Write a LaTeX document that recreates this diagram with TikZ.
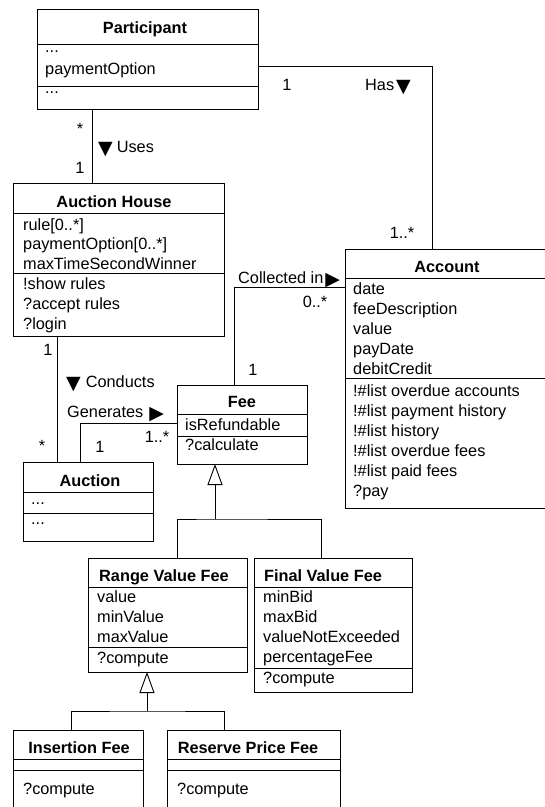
\documentclass[tikz,border=0pt]{standalone}
\usepackage{fontspec}
\setmainfont{Liberation Sans}
\newfontfamily\symfont{DejaVu Sans}
\usetikzlibrary{arrows.meta}
\tikzset{
  umlbox/.style={draw, line width=0.9pt, rectangle, inner sep=0pt, outer sep=0pt, anchor=north west},
  txt/.style={inner sep=0pt, text height=11.7pt, text depth=0pt, anchor=west, font=\fontsize{16.3}{20}\selectfont},
  ttl/.style={txt, anchor=center, font=\fontsize{16.3}{20}\selectfont\bfseries},
  lbl/.style={txt, anchor=center},
  conn/.style={line width=0.9pt},
  sepline/.style={line width=0.9pt},
  gen/.style={conn, -{Triangle[open, length=21pt, width=15pt]}},
}
\newcommand{\umlclass}[5]{%
  \node[umlbox, minimum width={#4-#2}, minimum height={#5-#3}] (#1) at (#2,#3) {};}
\newcommand{\umlsep}[2]{\draw[sepline] (#1.west |- 0,#2) -- (#1.east |- 0,#2);}
\newcommand{\tri}[1]{{\symfont\fontsize{19}{19}\selectfont\raisebox{-1.5pt}{#1}}}
\begin{document}
\begin{tikzpicture}[x=1pt,y=-1pt]
\useasboundingbox (0,0) rectangle (545,807);
\clip (0,0) rectangle (545,807);

% ---------- Participant
\umlclass{participant}{37}{9}{258}{109}
\umlsep{participant}{44}\umlsep{participant}{86}
\node[ttl] (participantT) at (145,28) {Participant};
\node[txt] (p1) at (45,47) {...};
\node[txt] (p2) at (45,69) {paymentOption};
\node[txt] (p3) at (45,88) {...};

% ---------- Auction House
\umlclass{ah}{13}{183}{224}{336}
\umlsep{ah}{213}\umlsep{ah}{273}
\node[ttl] (ahT) at (114,202) {Auction House};
\node[txt] (ah1) at (23,225) {rule[0..*]};
\node[txt] (ah2) at (23,244) {paymentOption[0..*]};
\node[txt] (ah3) at (23,264) {maxTimeSecondWinner};
\node[txt] (ah4) at (23,284) {!show rules};
\node[txt] (ah5) at (23,304) {?accept rules};
\node[txt] (ah6) at (23,324) {?login};

% ---------- Account
\umlclass{account}{345}{249}{549}{508}
\umlsep{account}{278}\umlsep{account}{378}
\node[ttl] (accountT) at (447,267) {Account};
\node[txt] (a1) at (353,289) {date};
\node[txt] (a2) at (353,309) {feeDescription};
\node[txt] (a3) at (353,329) {value};
\node[txt] (a4) at (353,349) {payDate};
\node[txt] (a5) at (353,369) {debitCredit};
\node[txt] (a6) at (353,391) {!\#list overdue accounts};
\node[txt] (a7) at (353,411) {!\#list payment history};
\node[txt] (a8) at (353,431) {!\#list history};
\node[txt] (a9) at (353,451) {!\#list overdue fees};
\node[txt] (a10) at (353,471) {!\#list paid fees};
\node[txt] (a11) at (353,491) {?pay};

% ---------- Fee
\umlclass{fee}{177}{385}{307}{464}
\umlsep{fee}{414}\umlsep{fee}{436}
\node[ttl] (feeT) at (242,402) {Fee};
\node[txt] (f1) at (185,425) {isRefundable};
\node[txt] (f2) at (185,445) {?calculate};

% ---------- Auction
\umlclass{auction}{23}{462}{153}{541}
\umlsep{auction}{492}\umlsep{auction}{513}
\node[ttl] (auctionT) at (90,481) {Auction};
\node[txt] (au1) at (31,499) {...};
\node[txt] (au2) at (31,519) {...};

% ---------- Range Value Fee
\umlclass{rvf}{88}{558}{247}{672}
\umlsep{rvf}{587}\umlsep{rvf}{647}
\node[ttl] (rvfT) at (164,576) {Range Value Fee};
\node[txt] (r1) at (97,597) {value};
\node[txt] (r2) at (97,617) {minValue};
\node[txt] (r3) at (97,637) {maxValue};
\node[txt] (r4) at (97,658) {?compute};

% ---------- Final Value Fee
\umlclass{fvf}{254}{558}{412}{692}
\umlsep{fvf}{587}\umlsep{fvf}{668}
\node[ttl] (fvfT) at (323,576) {Final Value Fee};
\node[txt] (v1) at (263,597) {minBid};
\node[txt] (v2) at (263,617) {maxBid};
\node[txt] (v3) at (263,637) {valueNotExceeded};
\node[txt] (v4) at (263,657) {percentageFee};
\node[txt] (v5) at (263,678) {?compute};

% ---------- Insertion Fee
\umlclass{ins}{13}{730}{143}{840}
\umlsep{ins}{759}\umlsep{ins}{770}
\node[ttl] (insT) at (79,748) {Insertion Fee};
\node[txt] (i1) at (23,789) {?compute};

% ---------- Reserve Price Fee
\umlclass{res}{167}{730}{340}{840}
\umlsep{res}{759}\umlsep{res}{770}
\node[ttl] (resT) at (248,748) {Reserve Price Fee};
\node[txt] (s1) at (177,789) {?compute};

% ---------- Associations
\draw[conn] (participant.south -| 92,0) -- (ah.north -| 92,0);
\node[lbl] (m1) at (80,129) {*};
\node[lbl] (m2) at (80,168) {1};
\node[txt] (usesL) at (98,147) {\tri{▼}\hspace{4pt}Uses};

\draw[conn] (participant.east |- 0,66) -| (account.north -| 432,0);
\node[lbl] (m3) at (287,85) {1};
\node[txt, anchor=east] (hasL) at (411,85) {Has\hspace{2pt}\tri{▼}};
\node[lbl] (m4) at (402,233) {1..*};

\draw[conn] (fee.north -| 234,0) |- (account.west |- 0,287);
\node[txt] (colL) at (238,278) {Collected in\hspace{2pt}\tri{▶}};
\node[lbl] (m5) at (315,302) {0..*};
\node[lbl] (m6) at (253,370) {1};

\draw[conn] (ah.south -| 57,0) -- (auction.north -| 57,0);
\node[lbl] (m7) at (48,350) {1};
\node[txt] (conL) at (66,382) {\tri{▼}\hspace{5pt}Conducts};
\node[lbl] (m8) at (42,446) {*};

\draw[conn] (auction.north -| 80,0) |- (fee.west |- 0,423);
\node[txt] (genL) at (67,412) {Generates\hspace{6pt}\tri{▶}};
\node[lbl] (m9) at (100,447) {1};
\node[lbl] (m10) at (157,437) {1..*};

% ---------- Generalizations
\coordinate (g1) at (215,519);
\draw[conn] (rvf.north -| 177,0) |- (g1) -| (fvf.north -| 321,0);
\draw[gen] (g1) -- (fee.south -| g1);

\coordinate (g2) at (147,711);
\draw[conn] (ins.north -| 71,0) |- (g2) -| (res.north -| 224,0);
\draw[gen] (g2) -- (rvf.south -| g2);
\end{tikzpicture}
\end{document}
